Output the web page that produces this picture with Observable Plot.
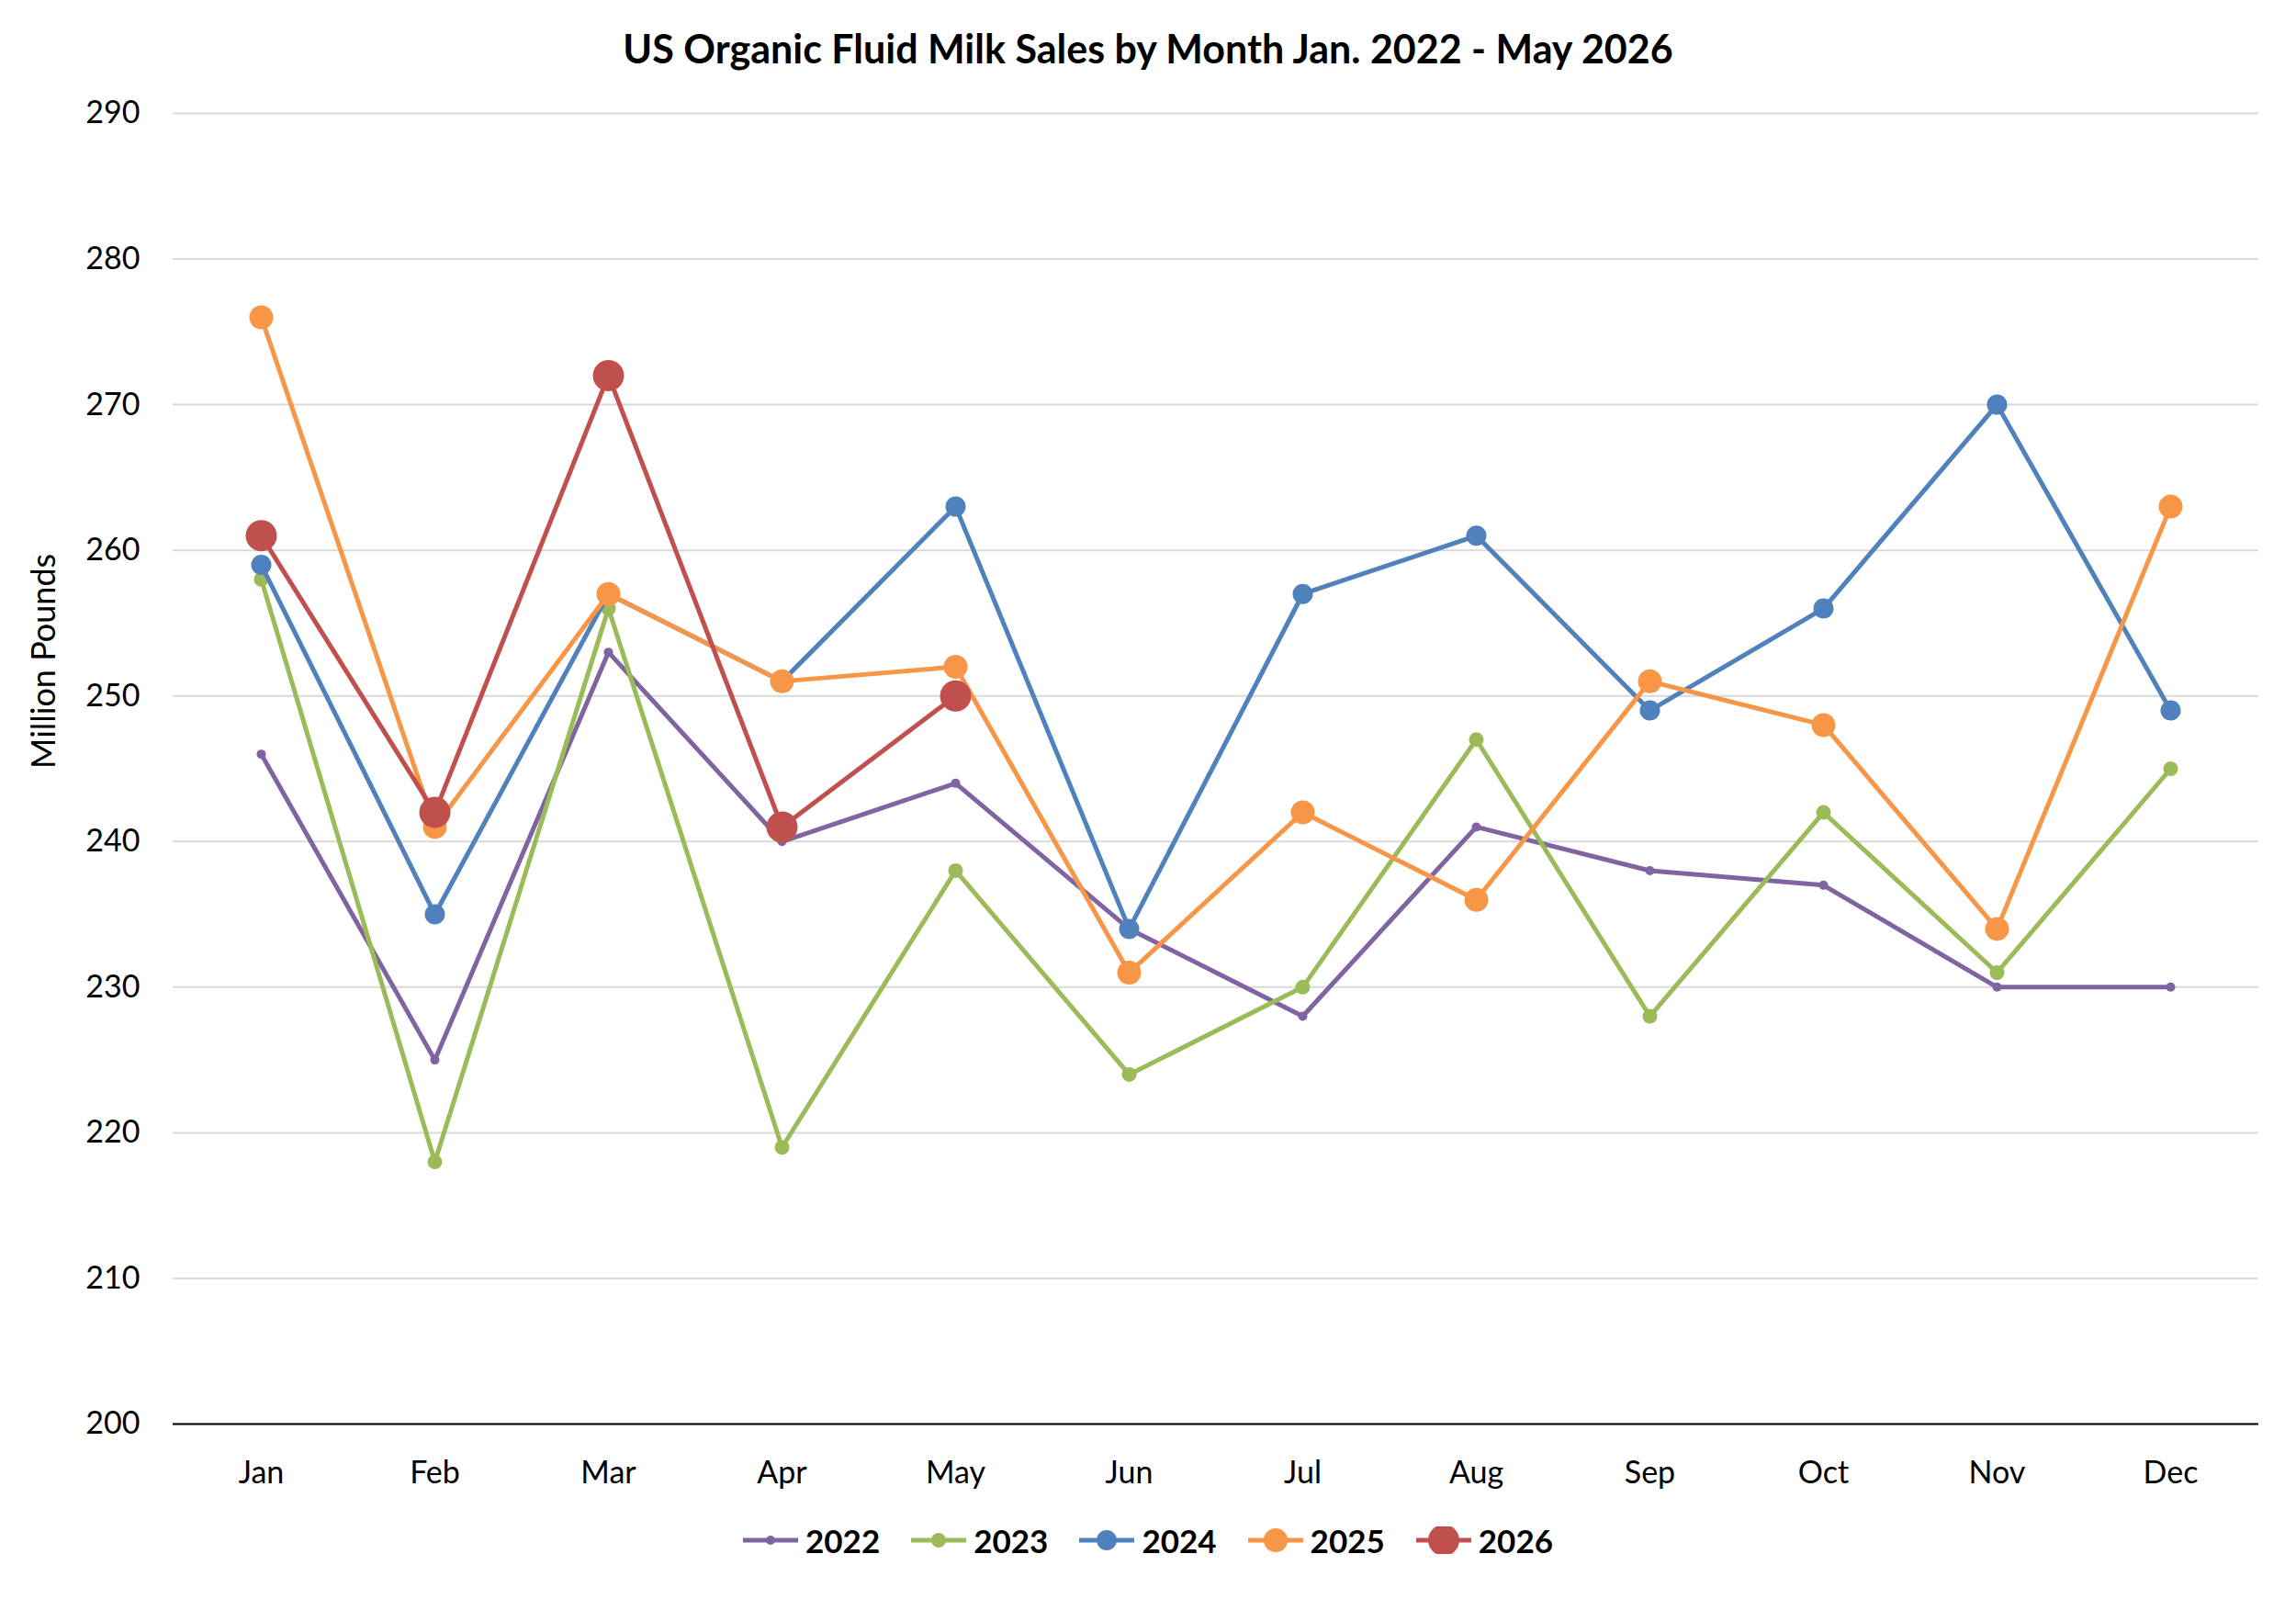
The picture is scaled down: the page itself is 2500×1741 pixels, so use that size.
<!DOCTYPE html>
<html><head><meta charset="utf-8">
<script src="https://cdn.jsdelivr.net/npm/d3@7"></script>
<script src="https://cdn.jsdelivr.net/npm/@observablehq/plot@0.6"></script>
<style>
body{margin:0;background:#fff;font-family:Lato,"Open Sans",sans-serif;}
#title{height:90px;line-height:106px;text-align:center;font-weight:bold;font-size:43px;color:#000;}
#legend{display:flex;justify-content:center;gap:34px;margin-top:16px;font-weight:bold;font-size:35px;}
#legend span{display:flex;align-items:center;gap:8px}
</style></head><body>
<div id="title">US Organic Fluid Milk Sales by Month Jan. 2022 - May 2026</div>
<div id="chart"></div>
<div id="legend"></div>
<script>
const months=["Jan","Feb","Mar","Apr","May","Jun","Jul","Aug","Sep","Oct","Nov","Dec"];
const years=["2022","2023","2024","2025","2026"];
const v2022=[246,225,253,240,244,234,228,241,238,237,230,230];
const v2023=[258,218,256,219,238,224,230,247,228,242,231,245];
const v2024=[259,235,257,251,263,234,257,261,249,256,270,249];
const v2025=[276,241,257,251,252,231,242,236,251,248,234,263];
const v2026=[261,242,272,241,250];
const colors=["#8064a2","#9bbb59","#4f81bd","#f79646","#c0504d"];
const radii=[5,8,11,13,17];
const yTicks=[200,210,220,230,240,250,260,270,280,290];
const series=[v2022,v2023,v2024,v2025,v2026];
const data=series.flatMap((s,i)=>s.map((v,j)=>({year:years[i],month:months[j],value:v})));
const marks=[Plot.gridY(yTicks,{stroke:"#d9d9d9",strokeOpacity:1,strokeWidth:2}),Plot.ruleY([200],{stroke:"#000",strokeWidth:2})];
years.forEach((y,i)=>{
  const d=data.filter(r=>r.year===y);
  marks.push(Plot.line(d,{x:"month",y:"value",stroke:colors[i],strokeWidth:5}));
  marks.push(Plot.dot(d,{x:"month",y:"value",fill:colors[i],r:radii[i]}));
});
const chart=Plot.plot({
  width:2500,height:1550,marginLeft:188,marginRight:41,marginTop:33,marginBottom:90,
  style:{fontFamily:"Lato, 'Open Sans', sans-serif",fontSize:"34px",color:"#000"},
  x:{type:"point",domain:months,padding:0.49,label:null,tickSize:0,tickPadding:40},
  y:{domain:[200,290],ticks:yTicks,label:null,tickSize:0,tickPadding:36},
  marks:[...marks,
    Plot.text(["Million Pounds"],{frameAnchor:"left",dx:-140,rotate:-90,fontSize:36})]
});
document.getElementById("chart").append(chart);
const lg=document.getElementById("legend");
years.forEach((y,i)=>{
  lg.insertAdjacentHTML("beforeend",`<span><svg width="60" height="30"><line x1="0" x2="60" y1="15" y2="15" stroke="${colors[i]}" stroke-width="5"/><circle cx="30" cy="15" r="${radii[i]}" fill="${colors[i]}"/></svg>${y}</span>`);
});
</script></body></html>
